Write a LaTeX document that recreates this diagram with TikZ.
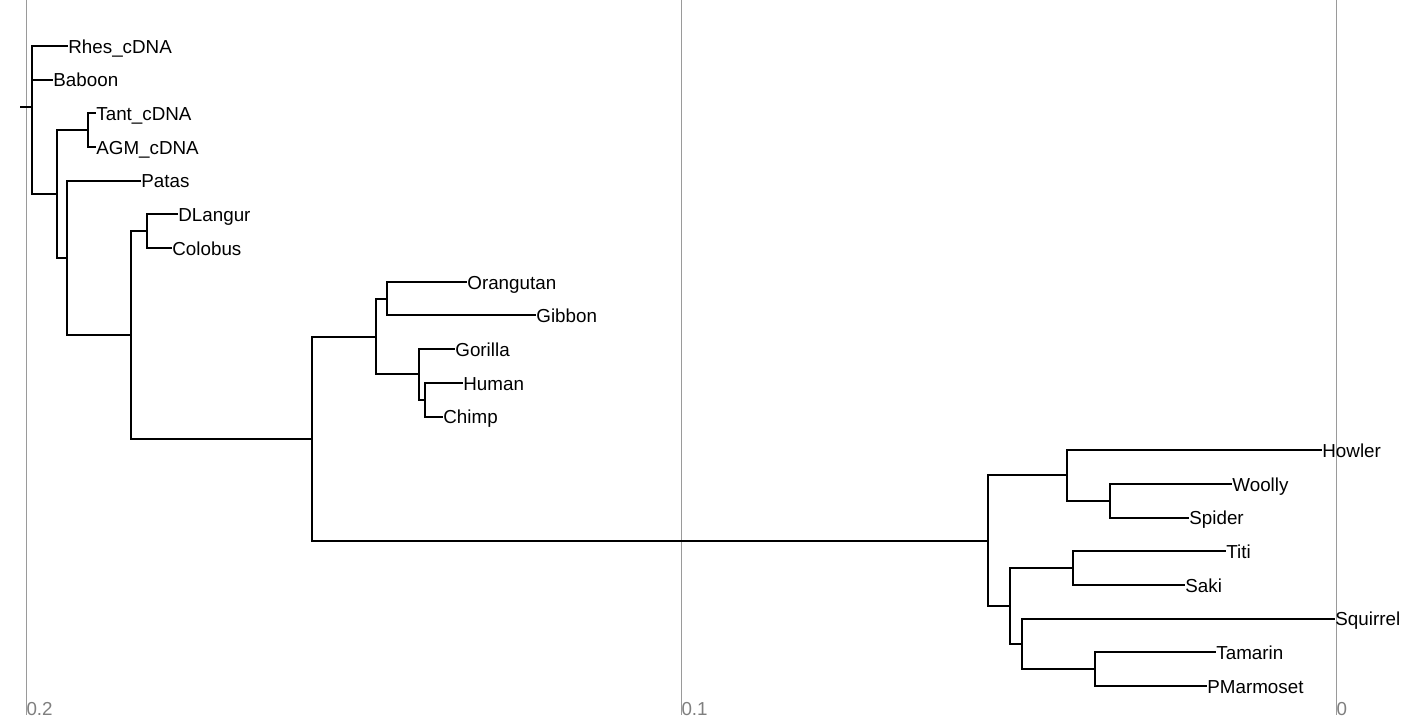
\documentclass[tikz,border=0pt]{standalone}
\usepackage{fontspec}
\setmainfont{Liberation Sans}
\usepackage{xcolor}
\usepackage{tikz}
\usetikzlibrary{positioning}

\definecolor{gridgray}{HTML}{9A9A9A}
\definecolor{labelgray}{HTML}{7F7F7F}

\begin{document}
\begin{tikzpicture}[
    x=0.5pt, y=-0.5pt,
    leaf/.style={anchor=west, inner sep=0pt, text height=0.72em, text depth=0pt, font=\fontsize{9.4}{11}\selectfont},
    branch/.style={line width=1pt, black},
    gridline/.style={line width=0.5pt, gridgray},
    ticklabel/.style={anchor=base west, inner sep=0pt, text=labelgray, font=\fontsize{9.4}{11}\selectfont}
]
\useasboundingbox (0,0) rectangle (1415,718);

% =====================
% Scale lines
% =====================
\draw[gridline] (26,0) -- (26,715) node[ticklabel] (t02) {0.2};
\draw[gridline] (681,0) -- (681,715) node[ticklabel] (t01) {0.1};
\draw[gridline] (1336,0) -- (1336,715) node[ticklabel] (t00) {0};

% =====================
% Leaves: Old World monkeys
% =====================
\node[leaf] (rhes) at (68,46) {Rhes\_cDNA};
\node[leaf] (baboon) at (53,79.7) {Baboon};
\node[leaf] (tant) at (96,113.4) {Tant\_cDNA};
\node[leaf] (agm) at (96,147) {AGM\_cDNA};
\node[leaf] (patas) at (141,180.7) {Patas};
\node[leaf] (dlangur) at (178,214.4) {DLangur};
\node[leaf] (colobus) at (172,248.1) {Colobus};

% =====================
% Leaves: Apes
% =====================
\node[leaf] (orangutan) at (467,281.8) {Orangutan};
\node[leaf] (gibbon) at (536,315.4) {Gibbon};
\node[leaf] (gorilla) at (455,349.1) {Gorilla};
\node[leaf] (human) at (463,382.8) {Human};
\node[leaf] (chimp) at (443,416.5) {Chimp};

% =====================
% Leaves: New World monkeys
% =====================
\node[leaf] (howler) at (1322,450.2) {Howler};
\node[leaf] (woolly) at (1232,483.8) {Woolly};
\node[leaf] (spider) at (1189,517.5) {Spider};
\node[leaf] (titi) at (1226,551.2) {Titi};
\node[leaf] (saki) at (1185,584.9) {Saki};
\node[leaf] (squirrel) at (1335,618.6) {Squirrel};
\node[leaf] (tamarin) at (1216,652.2) {Tamarin};
\node[leaf] (pmarmoset) at (1207,686) {PMarmoset};

% =====================
% Internal nodes
% =====================
\coordinate (stem) at (20,106.6);
\coordinate (root) at (32,106.6);
\coordinate (cerco) at (57,194);
\coordinate (tantagm) at (88,130.2);
\coordinate (patasplus) at (67,257.8);
\coordinate (catarr) at (131,334.9);
\coordinate (colob) at (147,231.3);
\coordinate (anthro) at (312,438.6);
\coordinate (apes) at (376,336.5);
\coordinate (orangib) at (387,298.6);
\coordinate (african) at (419,374.4);
\coordinate (homchimp) at (425,399.7);
\coordinate (platyr) at (988,540.7);
\coordinate (atel) at (1067,475.4);
\coordinate (woolspid) at (1110,500.7);
\coordinate (pithcall) at (1010,606);
\coordinate (titisaki) at (1073,568);
\coordinate (cebid) at (1022,643.9);
\coordinate (callit) at (1095,669.1);

% =====================
% Branches
% =====================
\draw[branch] (stem) -- (root);
\draw[branch] (root) |- (rhes.west);
\draw[branch] (root) |- (baboon.west);
\draw[branch] (root) |- (cerco);

\draw[branch] (cerco) |- (tantagm);
\draw[branch] (cerco) |- (patasplus);
\draw[branch] (tantagm) |- (tant.west);
\draw[branch] (tantagm) |- (agm.west);
\draw[branch] (patasplus) |- (patas.west);
\draw[branch] (patasplus) |- (catarr);
\draw[branch] (catarr) |- (colob);
\draw[branch] (catarr) |- (anthro);
\draw[branch] (colob) |- (dlangur.west);
\draw[branch] (colob) |- (colobus.west);

\draw[branch] (anthro) |- (apes);
\draw[branch] (anthro) |- (platyr);
\draw[branch] (apes) |- (orangib);
\draw[branch] (apes) |- (african);
\draw[branch] (orangib) |- (orangutan.west);
\draw[branch] (orangib) |- (gibbon.west);
\draw[branch] (african) |- (gorilla.west);
\draw[branch] (african) |- (homchimp);
\draw[branch] (homchimp) |- (human.west);
\draw[branch] (homchimp) |- (chimp.west);

\draw[branch] (platyr) |- (atel);
\draw[branch] (platyr) |- (pithcall);
\draw[branch] (atel) |- (howler.west);
\draw[branch] (atel) |- (woolspid);
\draw[branch] (woolspid) |- (woolly.west);
\draw[branch] (woolspid) |- (spider.west);
\draw[branch] (pithcall) |- (titisaki);
\draw[branch] (pithcall) |- (cebid);
\draw[branch] (titisaki) |- (titi.west);
\draw[branch] (titisaki) |- (saki.west);
\draw[branch] (cebid) |- (squirrel.west);
\draw[branch] (cebid) |- (callit);
\draw[branch] (callit) |- (tamarin.west);
\draw[branch] (callit) |- (pmarmoset.west);

\end{tikzpicture}
\end{document}
